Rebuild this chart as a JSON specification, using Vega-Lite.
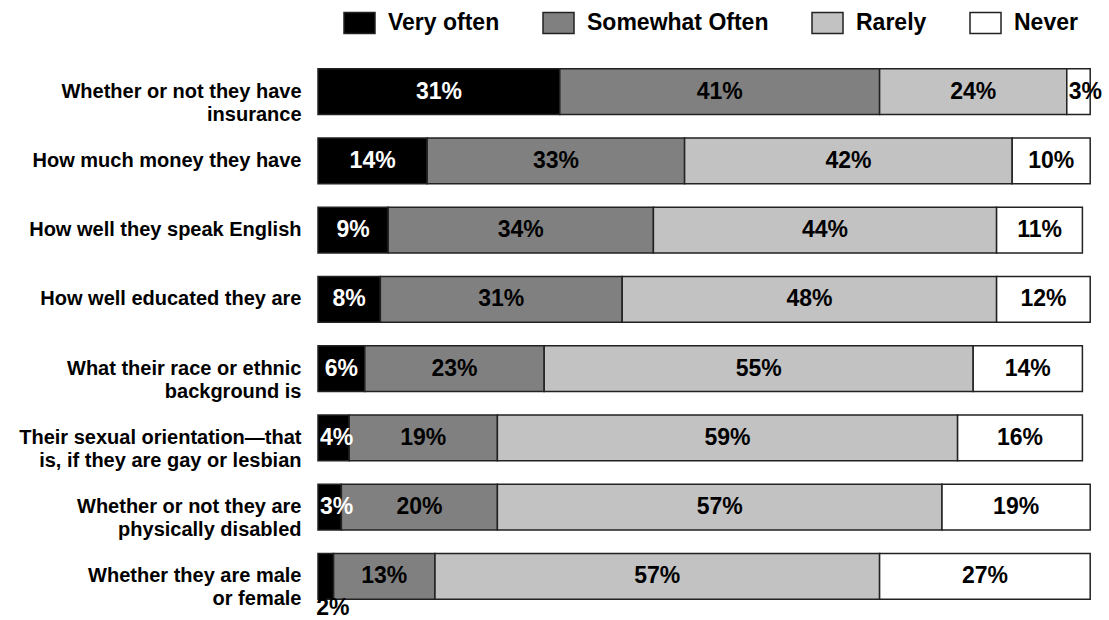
{
  "$schema": "https://vega.github.io/schema/vega-lite/v6.json",
  "width": 780,
  "height": 554,
  "autosize": {"type": "none"},
  "padding": {"left": 318, "top": 57, "right": 11, "bottom": 9},
  "background": "white",
  "config": {"view": {"stroke": null}, "font": "Liberation Sans"},
  "data": {"values": [
    {"q": "Whether or not they have|insurance", "series": "Very often", "s": 1, "value": 31},
    {"q": "Whether or not they have|insurance", "series": "Somewhat Often", "s": 2, "value": 41},
    {"q": "Whether or not they have|insurance", "series": "Rarely", "s": 3, "value": 24},
    {"q": "Whether or not they have|insurance", "series": "Never", "s": 4, "value": 3},
    {"q": "How much money they have", "series": "Very often", "s": 1, "value": 14},
    {"q": "How much money they have", "series": "Somewhat Often", "s": 2, "value": 33},
    {"q": "How much money they have", "series": "Rarely", "s": 3, "value": 42},
    {"q": "How much money they have", "series": "Never", "s": 4, "value": 10},
    {"q": "How well they speak English", "series": "Very often", "s": 1, "value": 9},
    {"q": "How well they speak English", "series": "Somewhat Often", "s": 2, "value": 34},
    {"q": "How well they speak English", "series": "Rarely", "s": 3, "value": 44},
    {"q": "How well they speak English", "series": "Never", "s": 4, "value": 11},
    {"q": "How well educated they are", "series": "Very often", "s": 1, "value": 8},
    {"q": "How well educated they are", "series": "Somewhat Often", "s": 2, "value": 31},
    {"q": "How well educated they are", "series": "Rarely", "s": 3, "value": 48},
    {"q": "How well educated they are", "series": "Never", "s": 4, "value": 12},
    {"q": "What their race or ethnic|background is", "series": "Very often", "s": 1, "value": 6},
    {"q": "What their race or ethnic|background is", "series": "Somewhat Often", "s": 2, "value": 23},
    {"q": "What their race or ethnic|background is", "series": "Rarely", "s": 3, "value": 55},
    {"q": "What their race or ethnic|background is", "series": "Never", "s": 4, "value": 14},
    {"q": "Their sexual orientation—that|is, if they are gay or lesbian", "series": "Very often", "s": 1, "value": 4},
    {"q": "Their sexual orientation—that|is, if they are gay or lesbian", "series": "Somewhat Often", "s": 2, "value": 19},
    {"q": "Their sexual orientation—that|is, if they are gay or lesbian", "series": "Rarely", "s": 3, "value": 59},
    {"q": "Their sexual orientation—that|is, if they are gay or lesbian", "series": "Never", "s": 4, "value": 16},
    {"q": "Whether or not they are|physically disabled", "series": "Very often", "s": 1, "value": 3},
    {"q": "Whether or not they are|physically disabled", "series": "Somewhat Often", "s": 2, "value": 20},
    {"q": "Whether or not they are|physically disabled", "series": "Rarely", "s": 3, "value": 57},
    {"q": "Whether or not they are|physically disabled", "series": "Never", "s": 4, "value": 19},
    {"q": "Whether they are male|or female", "series": "Very often", "s": 1, "value": 2},
    {"q": "Whether they are male|or female", "series": "Somewhat Often", "s": 2, "value": 13},
    {"q": "Whether they are male|or female", "series": "Rarely", "s": 3, "value": 57},
    {"q": "Whether they are male|or female", "series": "Never", "s": 4, "value": 27}
  ]},
  "transform": [
    {"stack": "value", "groupby": ["q"], "sort": [{"field": "s", "order": "ascending"}], "as": ["x0", "x1"]},
    {"calculate": "(datum.x0 + datum.x1) / 2", "as": "mid"},
    {"calculate": "datum.value + '%'", "as": "label"}
  ],
  "encoding": {
    "y": {
      "field": "q", "type": "nominal",
      "sort": [
        "Whether or not they have|insurance",
        "How much money they have",
        "How well they speak English",
        "How well educated they are",
        "What their race or ethnic|background is",
        "Their sexual orientation—that|is, if they are gay or lesbian",
        "Whether or not they are|physically disabled",
        "Whether they are male|or female"
      ],
      "scale": {"paddingInner": 0.34, "paddingOuter": 0.17},
      "axis": {
        "title": null, "domain": false, "ticks": false,
        "labelExpr": "split(datum.label, '|')",
        "labelFont": "Liberation Sans", "labelFontSize": 20, "labelFontWeight": "bold",
        "labelColor": "black", "labelPadding": 17, "labelLineHeight": 23, "labelLimit": 400
      }
    }
  },
  "layer": [
    {
      "mark": {"type": "bar", "stroke": "#222", "strokeWidth": 1.5},
      "encoding": {
        "x": {"field": "x0", "type": "quantitative", "scale": {"domain": [0, 100], "nice": false}, "axis": null},
        "x2": {"field": "x1"},
        "color": {
          "field": "series", "type": "nominal",
          "scale": {"domain": ["Very often", "Somewhat Often", "Rarely", "Never"], "range": ["#000000", "#808080", "#c2c2c2", "#ffffff"]},
          "legend": {
            "title": null, "orient": "none", "direction": "horizontal",
            "legendX": 25, "legendY": -51,
            "symbolType": "M-1,-0.68H1V0.68H-1Z", "symbolSize": 961,
            "symbolStrokeColor": "#222", "symbolStrokeWidth": 1.5, "symbolOpacity": 1,
            "labelFont": "Liberation Sans", "labelFontSize": 23, "labelFontWeight": "bold",
            "labelColor": "black", "labelOffset": 12, "columnPadding": 40, "labelLimit": 300
          }
        }
      }
    },
    {
      "transform": [{"filter": "datum.value >= 5"}],
      "mark": {"type": "text", "font": "Liberation Sans", "fontSize": 23, "fontWeight": "bold", "baseline": "middle", "align": "center"},
      "encoding": {
        "x": {"field": "mid", "type": "quantitative"},
        "text": {"field": "label", "type": "nominal"},
        "color": {
          "condition": {"test": "datum.series === 'Very often'", "value": "white"},
          "value": "black"
        }
      }
    },
    {
      "transform": [{"filter": "datum.value >= 2.5 && datum.value < 5"}],
      "mark": {"type": "text", "font": "Liberation Sans", "fontSize": 23, "fontWeight": "bold", "baseline": "middle", "align": "left", "dx": 2},
      "encoding": {
        "x": {"field": "x0", "type": "quantitative"},
        "text": {"field": "label", "type": "nominal"},
        "color": {
          "condition": {"test": "datum.series === 'Very often'", "value": "white"},
          "value": "black"
        }
      }
    },
    {
      "transform": [{"filter": "datum.value < 2.5"}],
      "mark": {"type": "text", "font": "Liberation Sans", "fontSize": 23, "fontWeight": "bold", "baseline": "middle", "align": "center", "dy": 32, "dx": 7, "color": "black"},
      "encoding": {
        "x": {"field": "mid", "type": "quantitative"},
        "text": {"field": "label", "type": "nominal"}
      }
    }
  ]
}
